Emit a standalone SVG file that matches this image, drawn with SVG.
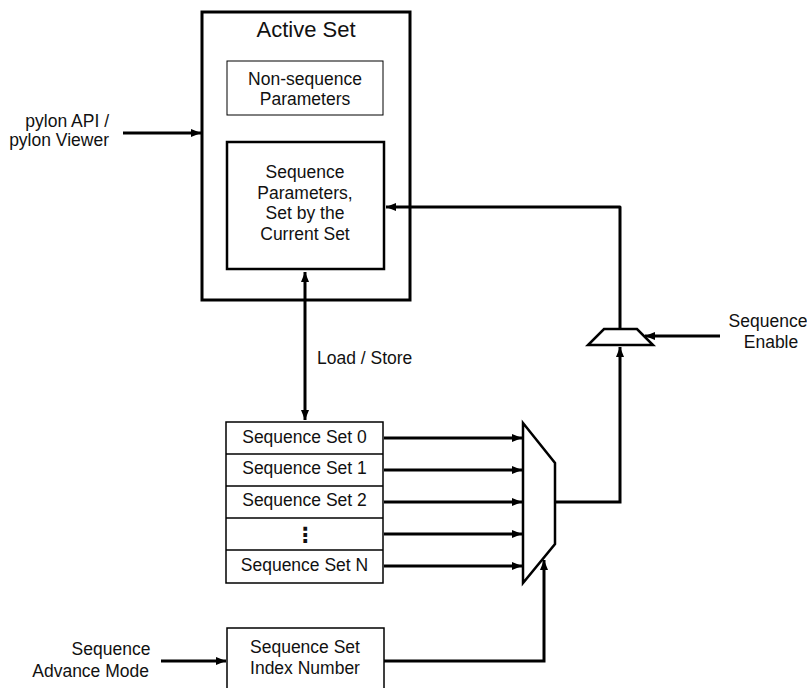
<svg xmlns="http://www.w3.org/2000/svg" width="807" height="688" viewBox="0 0 807 688">
<defs>
<marker id="ah" viewBox="0 0 10 8" refX="10" refY="4" markerWidth="10" markerHeight="8" markerUnits="userSpaceOnUse" orient="auto-start-reverse">
<path d="M0,0 L10,4 L0,8 z" fill="#000"/>
</marker>
<style>
text{font-family:"Liberation Sans",Arial,sans-serif;font-size:17.5px;fill:#111}
.c{text-anchor:middle}
.r{text-anchor:end}
.box{fill:#fff;stroke:#000}
.ln{fill:none;stroke:#000;stroke-width:3}
</style>
</defs>
<rect width="807" height="688" fill="#fff"/>

<g id="active-set">
<rect class="box" x="202" y="12" width="208" height="288" stroke-width="3"/>
<text class="c" x="306" y="37" style="font-size:22px">Active Set</text>
</g>
<g id="non-sequence">
<rect class="box" x="227" y="61" width="156" height="54" stroke-width="1"/>
<text class="c" x="305" y="85">Non-sequence</text>
<text class="c" x="305" y="105">Parameters</text>
</g>
<g id="sequence-parameters">
<rect class="box" x="227" y="142" width="157" height="127" stroke-width="2.5"/>
<text class="c" x="305" y="178">Sequence</text>
<text class="c" x="305" y="198.5">Parameters,</text>
<text class="c" x="305" y="219">Set by the</text>
<text class="c" x="305" y="239.5">Current Set</text>
</g>

<g id="sequence-sets">
<rect class="box" x="226" y="422" width="157" height="161" stroke-width="1.5"/>
<g stroke="#000" stroke-width="1.5">
<line x1="226" y1="454" x2="383" y2="454"/>
<line x1="226" y1="486" x2="383" y2="486"/>
<line x1="226" y1="518" x2="383" y2="518"/>
<line x1="226" y1="550" x2="383" y2="550"/>
</g>
<text class="c" x="304.5" y="443">Sequence Set 0</text>
<text class="c" x="304.5" y="474">Sequence Set 1</text>
<text class="c" x="304.5" y="506">Sequence Set 2</text>
<text class="c" x="305" y="542" style="font-family:'DejaVu Sans',sans-serif;font-size:21px;font-weight:bold">⋮</text>
<text class="c" x="304.5" y="571">Sequence Set N</text>
</g>

<g id="index-number">
<rect class="box" x="227" y="628" width="157" height="70" stroke-width="1.5"/>
<text class="c" x="305" y="653">Sequence Set</text>
<text class="c" x="305" y="674">Index Number</text>
</g>

<g id="mux">
<path d="M523,423 L555,463 L555,544 L523,583 z" fill="#fff" stroke="#000" stroke-width="2.5" stroke-linejoin="miter"/>
</g>
<g id="enable-gate">
<path d="M604,329 L637,329 L653,345 L588,345 z" fill="#fff" stroke="#000" stroke-width="2.5"/>
</g>

<g id="labels">
<text class="r" x="109" y="127">pylon API /</text>
<text class="r" x="109" y="146">pylon Viewer</text>
<text x="317" y="364">Load / Store</text>
<text class="c" x="768" y="327">Sequence</text>
<text class="c" x="771" y="348">Enable</text>
<text class="c" x="111" y="655">Sequence</text>
<text class="r" x="149" y="677">Advance Mode</text>
</g>

<g id="connectors">
<line class="ln" x1="123" y1="133" x2="201" y2="133" marker-end="url(#ah)"/>
<line class="ln" x1="305" y1="272" x2="305" y2="420" marker-start="url(#ah)" marker-end="url(#ah)"/>
<line class="ln" x1="384" y1="438" x2="522" y2="438" marker-end="url(#ah)"/>
<line class="ln" x1="384" y1="470" x2="522" y2="470" marker-end="url(#ah)" stroke-width="2.5"/>
<line class="ln" x1="384" y1="502" x2="522" y2="502" marker-end="url(#ah)"/>
<line class="ln" x1="384" y1="534" x2="522" y2="534" marker-end="url(#ah)" stroke-width="2.5"/>
<line class="ln" x1="384" y1="566" x2="522" y2="566" marker-end="url(#ah)"/>
<polyline class="ln" points="555,502 620,502 620,347" marker-end="url(#ah)"/>
<polyline class="ln" points="620,329 620,207 386,207" marker-end="url(#ah)" stroke-linejoin="round"/>
<line class="ln" x1="720" y1="336" x2="645" y2="336" marker-end="url(#ah)"/>
<line class="ln" x1="161" y1="661" x2="226" y2="661" marker-end="url(#ah)"/>
<polyline class="ln" points="384,661 544,661 544,560" marker-end="url(#ah)"/>
</g>
</svg>
